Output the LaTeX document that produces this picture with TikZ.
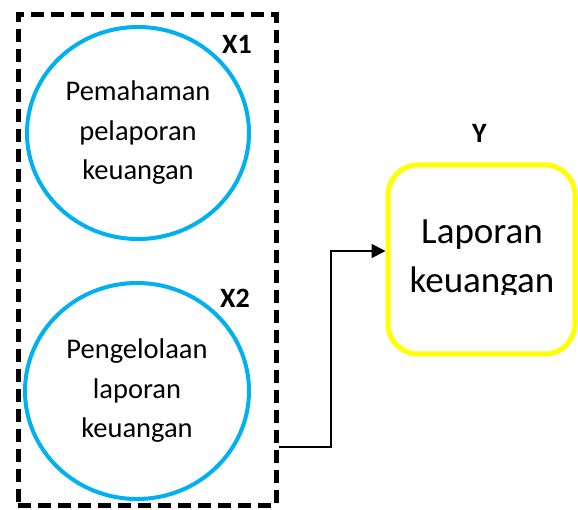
\documentclass[tikz,border=0pt]{standalone}
\usepackage{fontspec}
\setmainfont{Carlito}
\usetikzlibrary{shapes.geometric,arrows.meta}
\definecolor{cblue}{HTML}{00B0F0}
\definecolor{cyellow}{HTML}{FFFF00}
\begin{document}
\begin{tikzpicture}[x=1pt,y=-1pt,
  varcircle/.style={draw=cblue,line width=4pt,ellipse,inner sep=0pt,align=center,
    font=\fontsize{28.5}{39.5}\selectfont},
  grpbox/.style={draw=black,line width=5pt,dash pattern=on 13pt off 7pt,inner sep=0pt},
  ybox/.style={draw=cyellow,line width=5pt,rounded corners=30pt,inner sep=0pt},
  varlabel/.style={font=\fontsize{28}{34}\selectfont\bfseries,inner sep=0pt},
  conn/.style={line width=1.6pt,-{Triangle[length=14pt,width=14pt]}}]
\useasboundingbox (0,0) rectangle (578,510);
\node[grpbox,minimum width=258pt,minimum height=490pt] (grp) at (147,260) {};
\node[varcircle,minimum width=222pt,minimum height=212pt] (c1) at (138,133)
  {Pemahaman\\pelaporan\\keuangan};
\node[varcircle,minimum width=224pt,minimum height=216pt] (c2) at (137,391)
  {Pengelolaan\\laporan\\keuangan};
\node[varlabel] (x1) at (237,44) {X1};
\node[varlabel] (x2) at (235,298) {X2};
\node[ybox,minimum width=187pt,minimum height=189pt] (yb) at (481.5,259.5) {};
\node[varlabel] (ylab) at (479.5,133.5) {Y};
\begin{scope}
\clip (390,170) rectangle (572,295);
\node[align=center,inner sep=0pt,font=\fontsize{37}{49}\selectfont] (yt) at (482,259) {Laporan\\keuangan};
\end{scope}
\coordinate (bend) at (331,251);
\draw[conn] (grp.east |- 0,447) -| (bend) -- (bend -| yb.west);
\end{tikzpicture}
\end{document}
